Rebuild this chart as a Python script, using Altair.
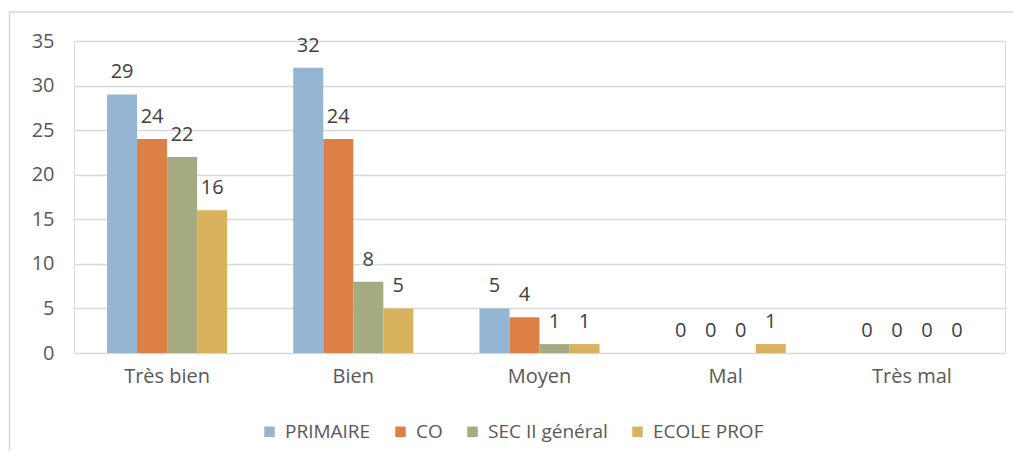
import altair as alt
import pandas as pd

categories = ["Très bien", "Bien", "Moyen", "Mal", "Très mal"]
series = ["PRIMAIRE", "CO", "SEC II général", "ECOLE PROF"]
primaire = [29, 32, 5, 0, 0]
co = [24, 24, 4, 0, 0]
sec2 = [22, 8, 1, 0, 0]
ecole_prof = [16, 5, 1, 1, 0]
colors = ["#94B6D2", "#DD8047", "#A5AB81", "#D8B25C"]
y_ticks = [0, 5, 10, 15, 20, 25, 30, 35]

rows = []
for s, vals in zip(series, [primaire, co, sec2, ecole_prof]):
    for c, v in zip(categories, vals):
        rows.append({"Catégorie": c, "Série": s, "Valeur": v})
df = pd.DataFrame(rows)

FONT = "Open Sans"

x = alt.X("Catégorie:N", sort=categories,
          scale=alt.Scale(paddingInner=0.355, paddingOuter=0.1775),
          axis=alt.Axis(title=None, labelAngle=0, domain=False, ticks=False,
                        labelPadding=13, labelFontSize=20, labelColor="#595959",
                        labelFont=FONT))
xo = alt.XOffset("Série:N", sort=series, scale=alt.Scale(domain=series, paddingInner=0, paddingOuter=0))
y = alt.Y("Valeur:Q", scale=alt.Scale(domain=[0, 35], nice=False),
          axis=alt.Axis(title=None, values=y_ticks, domain=False, ticks=False,
                        labelPadding=20, labelFontSize=20, labelColor="#595959",
                        labelFont=FONT, gridColor="#D9D9D9", gridWidth=1.5))
color = alt.Color("Série:N", sort=series,
                  scale=alt.Scale(domain=series, range=colors),
                  legend=alt.Legend(title=None, orient="none", direction="horizontal",
                                    legendX=186, legendY=381, symbolType="square",
                                    symbolSize=110, symbolStrokeWidth=0, symbolOpacity=1,
                                    labelFontSize=19, labelColor="#595959", labelFont=FONT,
                                    columnPadding=20, labelOffset=6))

border = alt.Chart(pd.DataFrame({"a": [0]})).mark_rect(
    fill=None, stroke="#D9D9D9", strokeWidth=1.5
).encode(x=alt.value(-64.5), x2=alt.value(960), y=alt.value(-29), y2=alt.value(480))

bars = alt.Chart(df).mark_bar().encode(x=x, xOffset=xo, y=y, color=color)
labels = alt.Chart(df).mark_text(
    baseline="alphabetic", dy=-16, fontSize=20, color="#404040", font=FONT
).encode(x=x, xOffset=xo, y=y, text="Valeur:Q")

chart = alt.layer(border, bars, labels).properties(
    width=931, height=312,
    autosize=alt.AutoSizeParams(type="none"),
    padding={"left": 66, "top": 33, "right": 8, "bottom": 98},
).configure_view(stroke=None).configure(background="white")

chart.save("out.html", embed_options={"renderer": "svg", "actions": False})
